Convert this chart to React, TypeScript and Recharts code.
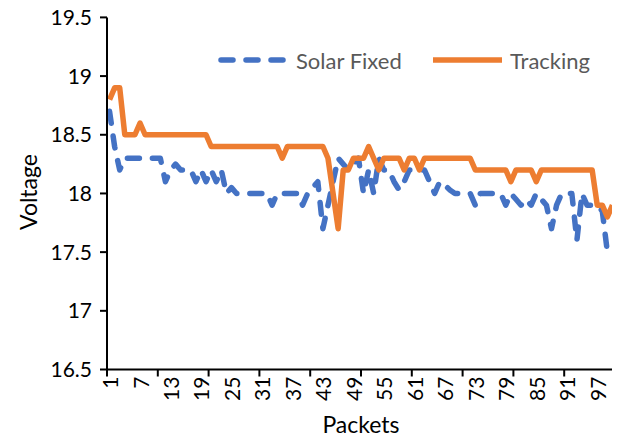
import React from 'react';
import { LineChart, Line, XAxis, YAxis, Legend } from 'recharts';

const packets = [
  1, 2, 3, 4, 5, 6, 7, 8, 9, 10,
  11, 12, 13, 14, 15, 16, 17, 18, 19, 20,
  21, 22, 23, 24, 25, 26, 27, 28, 29, 30,
  31, 32, 33, 34, 35, 36, 37, 38, 39, 40,
  41, 42, 43, 44, 45, 46, 47, 48, 49, 50,
  51, 52, 53, 54, 55, 56, 57, 58, 59, 60,
  61, 62, 63, 64, 65, 66, 67, 68, 69, 70,
  71, 72, 73, 74, 75, 76, 77, 78, 79, 80,
  81, 82, 83, 84, 85, 86, 87, 88, 89, 90,
  91, 92, 93, 94, 95, 96, 97, 98, 99, 100,
];

const solarFixed: (number | null)[] = [
  18.7, 18.4, 18.2, 18.3, 18.3, 18.3, 18.3, 18.3, 18.3, 18.3,
  18.3, 18.1, 18.2, 18.25, 18.2, 18.2, 18.2, 18.1, 18.2, 18.1,
  18.2, 18.1, 18.2, 18.0, 18.05, 18.0, 18.0, 18.0, 18.0, 18.0,
  18.0, 18.0, 17.9, 18.0, 18.0, 18.0, 18.0, 18.0, 17.9, 18.0,
  18.05, 18.1, 17.7, 17.9, 18.1, 18.3, 18.25, 18.2, 18.25, 18.3,
  18.0, 18.2, 18.0, 18.3, 18.2, 18.2, 18.1, 18.03, 18.1, 18.2,
  18.2, 18.2, 18.2, 18.1, 18.0, 18.1, 18.07, 18.03, 18.0, 18.0,
  18.0, 18.0, 17.9, 18.0, 18.0, 18.0, 18.0, 18.0, 17.9, 18.0,
  17.95, 17.9, 17.95, 17.9, 18.0, 17.95, 17.9, 17.7, 17.9, 18.0,
  18.0, 18.0, 17.6, 18.0, 17.9, 17.9, 17.9, 17.85, 17.5, null,
];

const tracking = [
  18.8, 18.9, 18.9, 18.5, 18.5, 18.5, 18.6, 18.5, 18.5, 18.5,
  18.5, 18.5, 18.5, 18.5, 18.5, 18.5, 18.5, 18.5, 18.5, 18.5,
  18.4, 18.4, 18.4, 18.4, 18.4, 18.4, 18.4, 18.4, 18.4, 18.4,
  18.4, 18.4, 18.4, 18.4, 18.3, 18.4, 18.4, 18.4, 18.4, 18.4,
  18.4, 18.4, 18.4, 18.3, 18.0, 17.7, 18.2, 18.2, 18.3, 18.3,
  18.3, 18.4, 18.3, 18.2, 18.3, 18.3, 18.3, 18.3, 18.2, 18.3,
  18.3, 18.2, 18.3, 18.3, 18.3, 18.3, 18.3, 18.3, 18.3, 18.3,
  18.3, 18.3, 18.2, 18.2, 18.2, 18.2, 18.2, 18.2, 18.2, 18.1,
  18.2, 18.2, 18.2, 18.2, 18.1, 18.2, 18.2, 18.2, 18.2, 18.2,
  18.2, 18.2, 18.2, 18.2, 18.2, 18.2, 17.9, 17.9, 17.8, 17.9,
];

const yTicks = [16.5, 17, 17.5, 18, 18.5, 19, 19.5];
const xLabelTicks = [1, 7, 13, 19, 25, 31, 37, 43, 49, 55, 61, 67, 73, 79, 85, 91, 97];
const xMarkTicks = [0.5, 10.5, 20.5, 30.5, 40.5, 50.5, 60.5, 70.5, 80.5, 90.5, 100.5];

const seriesNames = ['Solar Fixed', 'Tracking'];
const BLUE = '#4472C4';
const ORANGE = '#ED7D31';
const FONT = "Lato, 'Open Sans', sans-serif";

const data = packets.map((p, i) => ({
  packet: p,
  solar: solarFixed[i],
  tracking: tracking[i],
}));

const allXTicks = [...xLabelTicks, ...xMarkTicks].sort((a, b) => a - b);

const XTick = (props: any) => {
  const { x, y, payload } = props;
  const v = payload.value;
  const isMark = xMarkTicks.includes(v);
  const isLabel = xLabelTicks.includes(v);
  const ty = y + 7;
  return (
    <g>
      {isMark && <line x1={x} x2={x} y1={y} y2={y + 7} stroke="#000" strokeWidth={2} />}
      {isLabel && (
        <text
          x={x}
          y={ty}
          transform={`rotate(-90, ${x}, ${ty})`}
          textAnchor="end"
          dominantBaseline="central"
          fontSize={21}
          fontFamily={FONT}
          fill="#000"
        >
          {v}
        </text>
      )}
    </g>
  );
};

const YTitle = () => (
  <text
    x={28}
    y={192}
    transform="rotate(-90, 28, 192)"
    textAnchor="middle"
    dominantBaseline="central"
    fontSize={23}
    fontFamily={FONT}
    fill="#000"
  >
    Voltage
  </text>
);

const XTitle = () => (
  <text x={361} y={433} textAnchor="middle" fontSize={23} fontFamily={FONT} fill="#000">
    Packets
  </text>
);

const LegendContent = () => (
  <div style={{ position: 'relative', width: 400, height: 30, fontFamily: FONT }}>
    <div style={{ position: 'absolute', left: 0, top: 0, height: 30, display: 'flex', alignItems: 'center' }}>
      <svg width={70} height={10} style={{ display: 'block' }}>
        <line x1={3} x2={66} y1={5} y2={5} stroke={BLUE} strokeWidth={5.5} strokeDasharray="12 13" strokeLinecap="round" />
      </svg>
      <span style={{ marginLeft: 8, fontSize: 22, color: '#595959', whiteSpace: 'nowrap' }}>{seriesNames[0]}</span>
    </div>
    <div style={{ position: 'absolute', left: 215, top: 0, height: 30, display: 'flex', alignItems: 'center' }}>
      <svg width={70} height={10} style={{ display: 'block' }}>
        <line x1={0} x2={69} y1={5} y2={5} stroke={ORANGE} strokeWidth={5.5} />
      </svg>
      <span style={{ marginLeft: 7, fontSize: 22, color: '#595959', whiteSpace: 'nowrap' }}>{seriesNames[1]}</span>
    </div>
  </div>
);

export default function App() {
  return (
    <div style={{ width: 620, height: 439, marginTop: -8, marginLeft: -8 }}>
      <LineChart width={620} height={439} data={data} margin={{ top: 17.4, right: 5, left: 0, bottom: 0 }}>
        <XAxis
          dataKey="packet"
          type="number"
          domain={[0.5, 100.5]}
          ticks={allXTicks}
          interval={0}
          tick={<XTick />}
          tickLine={false}
          tickSize={0}
          tickMargin={0}
          axisLine={{ stroke: '#000', strokeWidth: 2 }}
          height={69.5}
          label={<XTitle />}
        />
        <YAxis
          type="number"
          domain={[16.5, 19.5]}
          ticks={yTicks}
          interval={0}
          width={107}
          tickSize={7}
          tickMargin={8}
          axisLine={{ stroke: '#000', strokeWidth: 2 }}
          tickLine={{ stroke: '#000', strokeWidth: 2 }}
          tick={{ fontSize: 21, fontFamily: FONT, fill: '#000' }}
          label={<YTitle />}
        />
        <Legend
          layout="vertical"
          align="center"
          verticalAlign="middle"
          content={<LegendContent />}
          wrapperStyle={{ position: 'absolute', left: 218, top: 45, width: 400 }}
        />
        <Line
          dataKey="solar"
          name={seriesNames[0]}
          stroke={BLUE}
          strokeWidth={5.5}
          strokeDasharray="12 13"
          strokeLinecap="round"
          strokeLinejoin="round"
          dot={false}
          activeDot={false}
          isAnimationActive={false}
        />
        <Line
          dataKey="tracking"
          name={seriesNames[1]}
          stroke={ORANGE}
          strokeWidth={5.5}
          strokeLinejoin="round"
          dot={false}
          activeDot={false}
          isAnimationActive={false}
        />
      </LineChart>
    </div>
  );
}
